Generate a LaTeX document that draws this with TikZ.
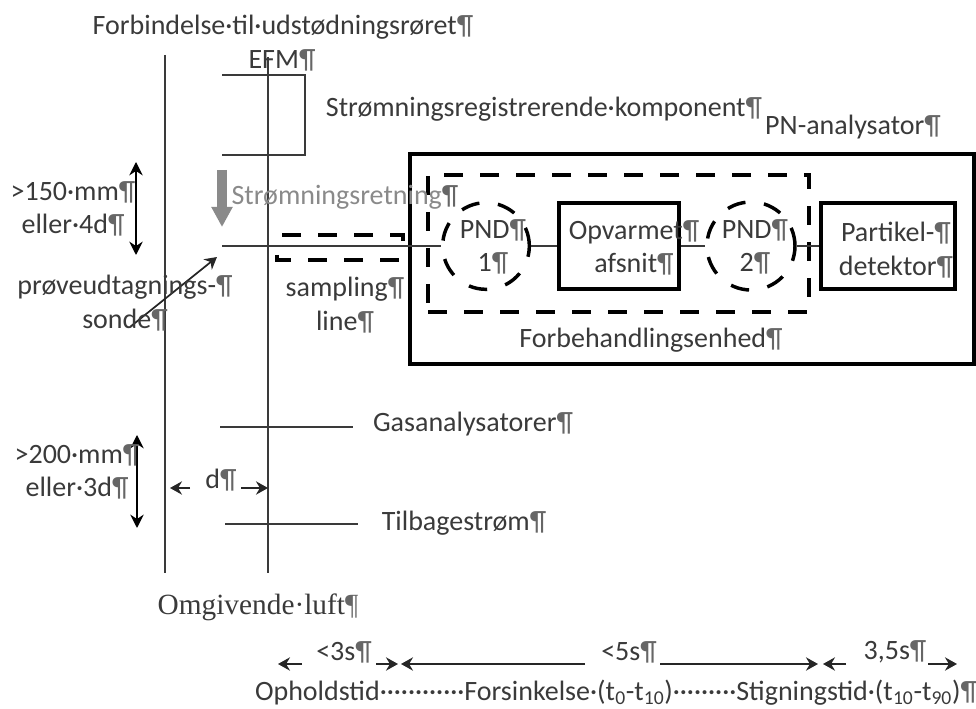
\documentclass[tikz,border=0pt]{standalone}
\usepackage{fontspec}
\setmainfont{Carlito}
\newfontfamily\serifface{Liberation Serif}
\usepackage{tikz}
\usetikzlibrary{shapes, positioning, arrows.meta}
\definecolor{inkgray}{HTML}{3A3A3A}
\definecolor{flowgray}{HTML}{8A8A8A}
\newcommand{\pil}{\textcolor{black!60}{¶}}

\begin{document}
\begin{tikzpicture}[
                x=0.75pt, y=-0.75pt,
                lbl/.style={inner sep=0pt, align=center, text=inkgray, font=\fontsize{21}{25}\selectfont},
                pipe/.style={draw=inkgray, line width=1.2pt},
                sidearrow/.style={draw=black, line width=1.1pt, {Stealth[length=10pt,width=10pt]}-{Stealth[length=10pt,width=10pt]}},
                oneway/.style={draw=black!85, line width=1.3pt, -{Stealth[length=9pt,width=10pt]}},
                solidbox/.style={draw=black, line width=2.8pt, rectangle, inner sep=0pt},
                dashbox/.style={draw=black, line width=2.6pt, dash pattern=on 14pt off 13pt, rectangle, inner sep=0pt},
                dashcirc/.style={draw=black, line width=2.6pt, dash pattern=on 14pt off 14pt, circle, inner sep=0pt, minimum size=65pt}
            ]
            \useasboundingbox (0,0) rectangle (976,709);

            % pipe walls
            \coordinate (walltop) at (165,55);
            \coordinate (wallbot) at (165,573);
            \coordinate (innertop) at (268,57);
            \coordinate (innerbot) at (268,573);
            \draw[pipe] (walltop) -- (wallbot);
            \draw[pipe] (innertop) -- (innerbot);

            % EFM bracket
            \coordinate (efma) at (222,75);
            \coordinate (efmb) at (305,75);
            \coordinate (efmc) at (305,155);
            \coordinate (efmd) at (222,155);
            \draw[pipe] (efma) -- (efmb) -- (efmc) -- (efmd);

            % analyser boxes
            \node[solidbox, minimum width=423pt, minimum height=157.5pt] (pnbox) at (692,259) {};
            \node[dashbox, minimum width=285.75pt, minimum height=102.75pt] (prebox) at (618.5,243.5) {};
            \node[dashcirc] (pnda) at (486,246) {};
            \node[solidbox, minimum width=90pt, minimum height=64.5pt] (heater) at (619,246) {};
            \node[dashcirc, minimum size=66pt] (pndb) at (751,246) {};
            \node[solidbox, minimum width=100.5pt, minimum height=64.5pt] (detector) at (888,246) {};

            % sampling line
            \coordinate (probe) at (222,246);
            \draw[pipe] (probe) -- (pnda.west);
            \draw[pipe] (pnda.east) -- (heater.west);
            \draw[pipe] (heater.east) -- (pndb.west);
            \draw[pipe] (pndb.east) -- (detector.west);
            \coordinate (sla) at (403,241);
            \coordinate (slb) at (277,235);
            \coordinate (slc) at (277,255);
            \coordinate (sld) at (405,260);
            \draw[line width=2.6pt, dash pattern=on 14pt off 13pt] (sla) |- (slb);
            \draw[line width=2.6pt, dash pattern=on 14pt off 13pt] (slc) |- (sld);

            % other taps
            \coordinate (gasa) at (220,427);
            \coordinate (gasb) at (353,427);
            \coordinate (backa) at (225,524);
            \coordinate (backb) at (358,524);
            \draw[pipe] (gasa) -- (gasb);
            \draw[pipe] (backa) -- (backb);

            % arrows
            \coordinate (upa) at (136,162);
            \coordinate (upb) at (136,255);
            \draw[sidearrow] (upa) -- (upb);
            \coordinate (loa) at (137,435);
            \coordinate (lob) at (137,528);
            \draw[sidearrow] (loa) -- (lob);
            \coordinate (flowa) at (222,170);
            \coordinate (flowb) at (222,227);
            \draw[draw=flowgray, line width=7.5pt, -{Triangle[length=15pt,width=15pt]}] (flowa) -- (flowb);
            \coordinate (sondea) at (130,327);
            \coordinate (sondeb) at (217,257);
            \draw[oneway] (sondea) -- (sondeb);
            \coordinate (da) at (190,488);
            \coordinate (db) at (170,488);
            \coordinate (dc) at (241,488);
            \coordinate (dd) at (268,488);
            \draw[oneway] (da) -- (db);
            \draw[oneway] (dc) -- (dd);

            % time arrows
            \coordinate (ta) at (302,664);
            \coordinate (tb) at (278,664);
            \coordinate (tc) at (376,664);
            \coordinate (td) at (398,664);
            \coordinate (te) at (585,664);
            \coordinate (tf) at (401,664);
            \coordinate (tg) at (660,664);
            \coordinate (th) at (818,664);
            \coordinate (ti) at (846,664);
            \coordinate (tj) at (823,664);
            \coordinate (tk) at (928,664);
            \coordinate (tl) at (957,664);
            \draw[oneway] (ta) -- (tb);
            \draw[oneway] (tc) -- (td);
            \draw[oneway] (te) -- (tf);
            \draw[oneway] (tg) -- (th);
            \draw[oneway] (ti) -- (tj);
            \draw[oneway] (tk) -- (tl);

            % labels
            \node[lbl] (exhaust) at (283,27) {Forbindelse·til·udstødningsrøret\pil};
            \node[lbl] (efm) at (282,60) {EFM\pil};
            \node[lbl] (flowrec) at (544,109) {Strømningsregistrerende·komponent\pil};
            \node[lbl] (pnname) at (853,127) {PN-analysator\pil};
            \node[lbl] (upper) at (73,209) {>150·mm\pil\\eller·4d\pil};
            \node[lbl, text=flowgray] (flowdir) at (345,197) {Strømningsretning\pil};
            \node[lbl] (sonde) at (125,303) {prøveudtagnings-\pil\\sonde\pil};
            \node[lbl] (sampling) at (345,305) {sampling\pil\\line\pil};
            \node[lbl] at (493,247) {PND\pil\\1\pil};
            \node[lbl] at (634,248) {Opvarmet\pil\\afsnit\pil};
            \node[lbl] at (755,247) {PND\pil\\2\pil};
            \node[lbl] at (896,250) {Partikel-\pil\\detektor\pil};
            \node[lbl] (pretreat) at (651,340) {Forbehandlingsenhed\pil};
            \node[lbl] (gas) at (473,424) {Gasanalysatorer\pil};
            \node[lbl] (back) at (464,523) {Tilbagestrøm\pil};
            \node[lbl] (lower) at (77,472) {>200·mm\pil\\eller·3d\pil};
            \node[lbl] (dlabel) at (221,480) {d\pil};
            \node[lbl, font=\serifface\fontsize{22}{25}\selectfont] (ambient) at (258,607) {Omgivende·luft\pil};
            \node[lbl] (tthree) at (344,652) {<3s\pil};
            \node[lbl] (tfive) at (629,652) {<5s\pil};
            \node[lbl] (trise) at (895,652) {3,5s\pil};
            \node[lbl] (times) at (616,693) {Opholdstid············Forsinkelse·(t\textsubscript{0}-t\textsubscript{10})·········Stigningstid·(t\textsubscript{10}-t\textsubscript{90})\pil};
        \end{tikzpicture}
\end{document}
